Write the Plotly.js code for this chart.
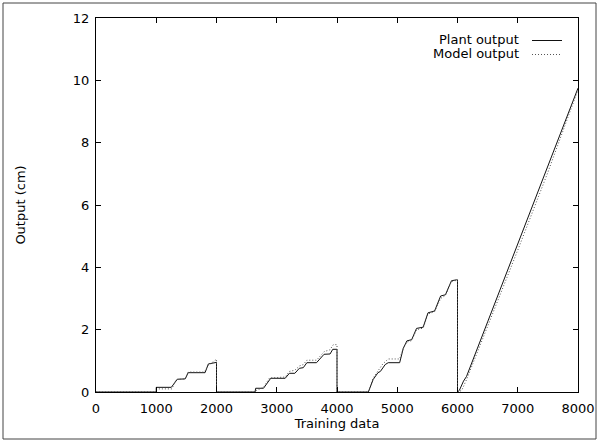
<!DOCTYPE html>
<html>
<head>
<meta charset="utf-8">
<script src="https://cdn.plot.ly/plotly-3.0.1.min.js"></script>
<style>html,body{margin:0;padding:0;background:#fff;}#chart{width:599px;height:442px;}</style>
</head>
<body>
<div id="chart"></div>
<script>
// Plant output (solid)
const plantX = [0, 1000, 1000, 1250, 1350, 1480, 1530, 1810, 1865, 1975, 2000, 2000,
  2640, 2650, 2780, 2900, 3140, 3210, 3300, 3375, 3440, 3500, 3660, 3785, 3885, 3930, 4000, 4000,
  4520, 4600, 4680, 4720, 4800, 4850, 5040, 5100, 5160, 5240, 5320, 5430, 5510, 5620, 5720, 5800, 5900, 5985, 6000, 6000,
  6030, 6100, 6150, 6500, 7000, 7500, 8000];
const plantY = [0, 0, 0.15, 0.15, 0.41, 0.42, 0.62, 0.62, 0.9, 0.95, 0.95, 0,
  0, 0.12, 0.12, 0.44, 0.44, 0.6, 0.6, 0.76, 0.78, 0.94, 0.94, 1.21, 1.22, 1.37, 1.37, 0,
  0, 0.4, 0.62, 0.66, 0.88, 0.94, 0.94, 1.4, 1.64, 1.68, 2.04, 2.08, 2.54, 2.6, 3.08, 3.12, 3.57, 3.6, 3.6, 0,
  0.05, 0.35, 0.5, 2.25, 4.75, 7.2, 9.75];
// Model output (dotted)
const modelX = [0, 1000, 1000, 1260, 1330, 1480, 1530, 1800, 1860, 1990, 2000, 2000,
  2640, 2660, 2780, 2880, 3140, 3210, 3300, 3380, 3440, 3500, 3660, 3790, 3880, 3940, 3990, 4000, 4000,
  4520, 4600, 4690, 4760, 4850, 5040, 5100, 5160, 5240, 5320, 5430, 5510, 5620, 5720, 5800, 5900, 5985, 6000, 6000,
  6070, 6150, 6500, 7000, 7500, 8000];
const modelY = [0, 0, 0.1, 0.1, 0.4, 0.42, 0.64, 0.64, 0.85, 1.05, 1.05, 0,
  0, 0.05, 0.15, 0.45, 0.48, 0.66, 0.7, 0.84, 0.88, 1.02, 1.02, 1.3, 1.35, 1.52, 1.52, 1.52, 0,
  0, 0.45, 0.7, 0.9, 1.06, 1.06, 1.4, 1.6, 1.65, 2.0, 2.05, 2.5, 2.58, 3.0, 3.1, 3.55, 3.58, 3.58, 0,
  0.05, 0.4, 2.1, 4.55, 7.05, 9.7];
const legendLabels = ["Plant output", "Model output"];
const xTicks = [0, 1000, 2000, 3000, 4000, 5000, 6000, 7000, 8000];
const yTicks = [0, 2, 4, 6, 8, 10, 12];

const font = {family: "DejaVu Sans, sans-serif", size: 13, color: "#000"};
const modelDash = "1px,2px";
const traces = [
  {x: plantX, y: plantY, mode: "lines", name: legendLabels[0], line: {color: "#111", width: 1}},
  {x: modelX, y: modelY, mode: "lines", name: legendLabels[1], line: {color: "#555", width: 1, dash: modelDash}}
];
const L = 96, R = 21, T = 18, B = 50, W = 599, H = 442;
const pw = W - L - R, ph = H - T - B;
const px = v => (v - L) / pw, py = v => (H - B - v) / ph;
const layout = {
  width: W, height: H,
  margin: {l: L, r: R, t: T, b: B, pad: 0},
  paper_bgcolor: "#fff", plot_bgcolor: "#fff",
  showlegend: false,
  font: font,
  xaxis: {range: [0, 8000], tickvals: xTicks, ticktext: xTicks.map(String), ticks: "inside", ticklen: 5,
    ticklabelstandoff: 4,
    mirror: "ticks", showline: true, linecolor: "#000", linewidth: 1, showgrid: false, zeroline: false,
    tickcolor: "#000", title: {text: "Training data", font: font, standoff: 0}},
  yaxis: {range: [0, 12], tickvals: yTicks, ticktext: yTicks.map(String), ticks: "inside", ticklen: 5,
    ticklabelstandoff: 3,
    mirror: "ticks", showline: true, linecolor: "#000", linewidth: 1, showgrid: false, zeroline: false,
    tickcolor: "#000", title: {text: "Output (cm)", font: font, standoff: 44}},
  annotations: [
    {xref: "paper", yref: "paper", x: px(521), y: py(39.5), xanchor: "right", yanchor: "middle", text: legendLabels[0], showarrow: false, font: font},
    {xref: "paper", yref: "paper", x: px(521), y: py(53), xanchor: "right", yanchor: "middle", text: legendLabels[1], showarrow: false, font: font}
  ],
  shapes: [
    {type: "line", xref: "paper", yref: "paper", x0: px(532), x1: px(562), y0: py(40.5), y1: py(40.5), line: {color: "#111", width: 1}},
    {type: "line", xref: "paper", yref: "paper", x0: px(532), x1: px(562), y0: py(54.5), y1: py(54.5), line: {color: "#555", width: 1, dash: modelDash}},
    {type: "rect", xref: "paper", yref: "paper", x0: px(3), x1: px(596), y0: py(3), y1: py(439), line: {color: "#444", width: 1}}
  ]
};
Plotly.newPlot("chart", traces, layout, {displayModeBar: false, staticPlot: true});
</script>
</body>
</html>
